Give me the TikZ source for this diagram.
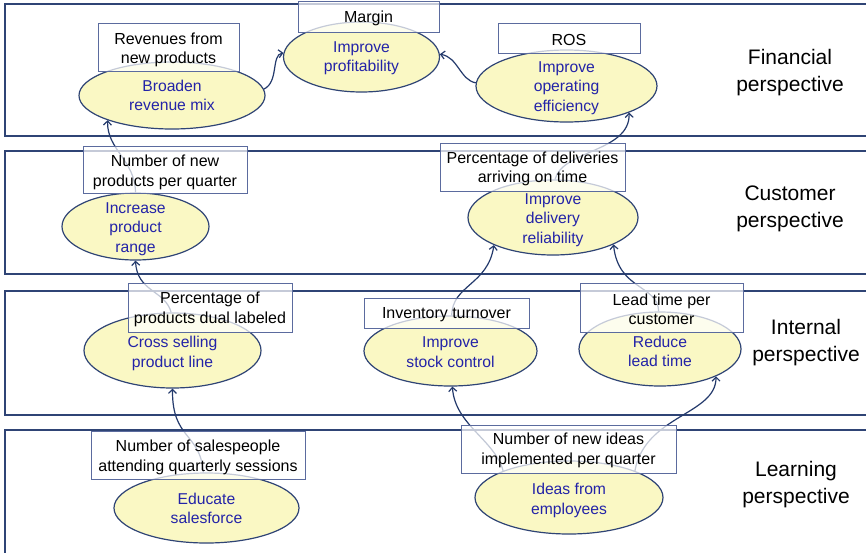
\documentclass[tikz,border=0pt]{standalone}
\usepackage{fontspec}
\setmainfont{Liberation Sans}
\usetikzlibrary{shapes.geometric,arrows.meta}
\definecolor{panelline}{HTML}{2F4475}
\definecolor{boxline}{HTML}{5B6B9E}
\definecolor{goalfill}{HTML}{FAF8C4}
\definecolor{goaltext}{HTML}{2323A8}
\definecolor{linkline}{HTML}{243A6C}
\newcommand\smallsans{\fontsize{15.7pt}{19.5pt}\selectfont}
\newcommand\boxsans{\fontsize{16pt}{19.5pt}\selectfont}
\newcommand\bigsans{\fontsize{21pt}{27pt}\selectfont}
\begin{document}
\begin{tikzpicture}[x=1pt,y=-1pt,
  panel/.style={draw=panelline,line width=1.4pt},
  goal/.style={ellipse,draw=panelline,line width=1.2pt,fill=goalfill,inner sep=0pt},
  goaltxt/.style={text=goaltext,align=center,font=\smallsans,inner sep=0pt},
  metric/.style={rectangle,draw=boxline,line width=1pt,fill=white,fill opacity=0.72,inner sep=0pt},
  metrictxt/.style={text=black,align=center,font=\boxsans,inner sep=0pt},
  persp/.style={align=center,font=\bigsans,inner sep=0pt},
  link/.style={draw=linkline,line width=1.2pt,-{Straight Barb[length=4pt,width=8pt]}}]
\useasboundingbox (0,0) rectangle (866,552);
\clip (0,0) rectangle (866,552);
\fill[white] (0,0) rectangle (866,552);

% perspective bands
\draw[panel] (5,4) rectangle (880,136);
\draw[panel] (5,151) rectangle (880,274);
\draw[panel] (5,291) rectangle (880,415);
\draw[panel] (5,430) rectangle (880,570);

% band titles
\node[persp] (pFin)  at (790,73)  {Financial\\perspective};
\node[persp] (pCus)  at (790,209) {Customer\\perspective};
\node[persp] (pInt)  at (806,343) {Internal\\perspective};
\node[persp] (pLrn)  at (796,485) {Learning\\perspective};

% objectives
\node[goal,minimum width=186pt,minimum height=67pt] (gRev)   at (172,95.5)  {};
\node[goal,minimum width=156pt,minimum height=70pt] (gProf)  at (361.5,57)  {};
\node[goal,minimum width=181pt,minimum height=72pt] (gOpEff) at (566.5,86)  {};
\node[goal,minimum width=147pt,minimum height=67pt] (gRange) at (135.5,226.5) {};
\node[goal,minimum width=170pt,minimum height=75pt] (gDeliv) at (553,217.5) {};
\node[goal,minimum width=177pt,minimum height=75pt] (gCross) at (172.5,350.5) {};
\node[goal,minimum width=173pt,minimum height=70pt] (gStock) at (450.5,351) {};
\node[goal,minimum width=162pt,minimum height=74pt] (gLead)  at (660,349)   {};
\node[goal,minimum width=185pt,minimum height=70pt] (gEdu)   at (206.5,508) {};
\node[goal,minimum width=188pt,minimum height=73pt] (gIdeas) at (569,497.5) {};

\node[goaltxt] (tRev)   at (gRev.center)   {Broaden\\revenue mix};
\node[goaltxt] (tProf)  at ([yshift=-1pt]gProf.center)  {Improve\\profitability};
\node[goaltxt] (tOpEff) at ([yshift=-2pt]gOpEff.center) {Improve\\operating\\efficiency};
\node[goaltxt] (tRange) at ([yshift=-2.5pt]gRange.center) {Increase\\product\\range};
\node[goaltxt] (tDeliv) at ([yshift=-2.5pt]gDeliv.center) {Improve\\delivery\\reliability};
\node[goaltxt] (tCross) at ([yshift=-3pt]gCross.center) {Cross selling\\product line};
\node[goaltxt] (tStock) at ([yshift=-1pt]gStock.center) {Improve\\stock control};
\node[goaltxt] (tLead)  at ([yshift=-2.5pt]gLead.center)  {Reduce\\lead time};
\node[goaltxt] (tEdu)   at ([yshift=-0.5pt]gEdu.center)   {Educate\\salesforce};
\node[goaltxt] (tIdeas) at ([yshift=-3pt]gIdeas.center) {Ideas from\\employees};

% cause-and-effect links
\draw[link] (gRange.90) .. controls (135,160) and (107,150) .. (gRev.201);
\draw[link] (gRev.4) .. controls (279,82) and (271,55) .. (gProf.177);
\draw[link] (gOpEff.178) .. controls (460,80) and (458,57) .. (gProf.2);
\draw[link] (gDeliv.87) .. controls (562,150) and (630,152) .. (gOpEff.337);
\draw[link] (gCross.92) .. controls (165,290) and (137,292) .. (gRange.270);
\draw[link] (gEdu.95) .. controls (200,432) and (172,440) .. (gCross.270);
\draw[link] (gStock.88) .. controls (452,285) and (488,285) .. (gDeliv.205);
\draw[link] (gLead.92) .. controls (658,285) and (618,290) .. (gDeliv.336);
\draw[link] (gIdeas.158) .. controls (495,440) and (455,425) .. (gStock.273);
\draw[link] (gIdeas.22) .. controls (645,415) and (716,415) .. (gLead.334);

% measures
\node[metric,minimum width=141pt,minimum height=31pt] (mMargin)  at (368.5,17)  {};
\node[metric,minimum width=141pt,minimum height=48pt] (mRev)     at (168.5,47)  {};
\node[metric,minimum width=142pt,minimum height=30pt] (mROS)     at (569,38)    {};
\node[metric,minimum width=164pt,minimum height=47pt] (mNewProd) at (165,169.5) {};
\node[metric,minimum width=185pt,minimum height=48pt] (mDeliv)   at (532.5,167) {};
\node[metric,minimum width=164pt,minimum height=49pt] (mDual)    at (210,307.5) {};
\node[metric,minimum width=165pt,minimum height=30pt] (mInv)     at (446.5,313) {};
\node[metric,minimum width=163pt,minimum height=49pt] (mLead)    at (661.5,307.5) {};
\node[metric,minimum width=214pt,minimum height=48pt] (mSales)   at (198,455)   {};
\node[metric,minimum width=215pt,minimum height=48pt] (mIdeas)   at (568.5,449) {};

\node[metrictxt] (xMargin)  at ([yshift=-1.5pt]mMargin.center)  {Margin};
\node[metrictxt] (xRev)     at ([yshift=-3pt]mRev.center)     {Revenues from\\new products};
\node[metrictxt] (xROS)     at ([yshift=-1.5pt]mROS.center)     {ROS};
\node[metrictxt] (xNewProd) at ([yshift=-3pt]mNewProd.center) {Number of new\\products per quarter};
\node[metrictxt] (xDeliv)   at ([yshift=-2pt]mDeliv.center)   {Percentage of deliveries\\arriving on time};
\node[metrictxt] (xDual)    at ([yshift=-2pt]mDual.center)    {Percentage of\\products dual labeled};
\node[metrictxt] (xInv)     at ([yshift=-1.5pt]mInv.center)     {Inventory turnover};
\node[metrictxt] (xLead)    at ([yshift=-2pt]mLead.center)    {Lead time per\\customer};
\node[metrictxt] (xSales)   at ([yshift=-2.5pt]mSales.center)   {Number of salespeople\\attending quarterly sessions};
\node[metrictxt] (xIdeas)   at ([yshift=-1.5pt]mIdeas.center)   {Number of new ideas\\implemented per quarter};
\end{tikzpicture}
\end{document}
